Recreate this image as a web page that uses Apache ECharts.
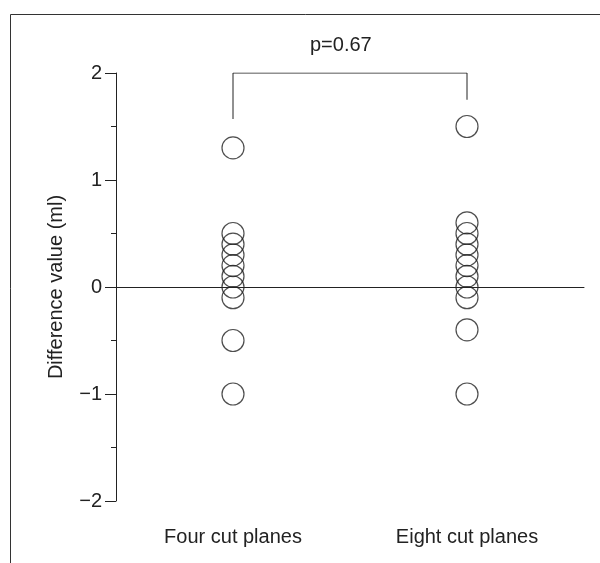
<!DOCTYPE html>
<html>
<head>
<meta charset="utf-8">
<script src="https://cdn.jsdelivr.net/npm/echarts@6/dist/echarts.min.js"></script>
<style>
  html, body { margin: 0; padding: 0; background: #fff; }
  #chart { width: 600px; height: 563px; }
</style>
</head>
<body>
<div id="chart"></div>
<script>
const categories = ["Four cut planes", "Eight cut planes"];
const fourValues = [1.3, 0.5, 0.4, 0.3, 0.2, 0.1, 0, -0.1, -0.5, -1];
const eightValues = [1.5, 0.6, 0.5, 0.4, 0.3, 0.2, 0.1, 0, -0.1, -0.4, -1];
const bracketLeft = 1.57;
const bracketTop = 2;
const bracketRight = 1.75;
const pLabel = "p=0.67";

const ink = "#222";
const font = "Liberation Sans, Arial, sans-serif";

const chart = echarts.init(document.getElementById("chart"), null, { renderer: "canvas" });

const points = [];
fourValues.forEach(v => points.push([categories[0], v]));
eightValues.forEach(v => points.push([categories[1], v]));

const bracket = [
  [categories[0], bracketLeft],
  [categories[0], bracketTop],
  [categories[1], bracketTop],
  [categories[1], bracketRight]
];

chart.setOption({
  animation: false,
  grid: { left: 116, right: 16, top: 73, bottom: 62 },
  xAxis: {
    type: "category",
    data: categories,
    boundaryGap: true,
    axisLine: { lineStyle: { color: ink, width: 1 } },
    axisTick: { alignWithLabel: true, length: 5, lineStyle: { color: ink } },
    axisLabel: { color: ink, fontSize: 20, fontFamily: font, margin: 26 },
    splitLine: { show: false }
  },
  yAxis: {
    type: "value",
    min: -2,
    max: 2,
    interval: 1,
    name: "Difference value (ml)",
    nameLocation: "middle",
    nameGap: 50,
    nameTextStyle: { color: ink, fontSize: 20, fontFamily: font },
    axisLine: { show: true, lineStyle: { color: ink, width: 1 } },
    axisTick: { show: true, length: 11, lineStyle: { color: ink } },
    minorTick: { show: true, splitNumber: 2, length: 5, lineStyle: { color: ink } },
    axisLabel: {
      color: ink, fontSize: 20, fontFamily: font, margin: 14,
      formatter: v => (v < 0 ? "\u2212" + Math.abs(v) : String(v))
    },
    splitLine: { show: false }
  },
  series: [
    {
      type: "scatter",
      data: points,
      symbol: "circle",
      symbolSize: 22,
      itemStyle: { color: "rgba(0,0,0,0)", borderColor: ink, borderWidth: 1.2 },
      markLine: {
        silent: true,
        symbol: "none",
        label: { show: false },
        lineStyle: { color: ink, width: 1, type: "solid" },
        data: [{ yAxis: 0 }]
      },
      z: 3
    },
    {
      type: "line",
      data: bracket,
      symbol: "none",
      lineStyle: { color: ink, width: 1 },
      z: 2
    }
  ]
});

// p-value label centered over the bracket
const pL = chart.convertToPixel({ seriesIndex: 1 }, [0, bracketTop]);
const pR = chart.convertToPixel({ seriesIndex: 1 }, [1, bracketTop]);

chart.setOption({
  graphic: [
    {
      type: "text",
      left: (pL[0] + pR[0]) / 2 - 40,
      top: pL[1] - 38,
      style: { text: pLabel, fill: ink, font: "20px " + font, width: 80, align: "center" }
    },
    {
      type: "polyline",
      shape: { points: [[10.5, 563], [10.5, 14.5], [600, 14.5]] },
      style: { stroke: "#333", lineWidth: 1, fill: null }
    }
  ]
});
</script>
</body>
</html>
